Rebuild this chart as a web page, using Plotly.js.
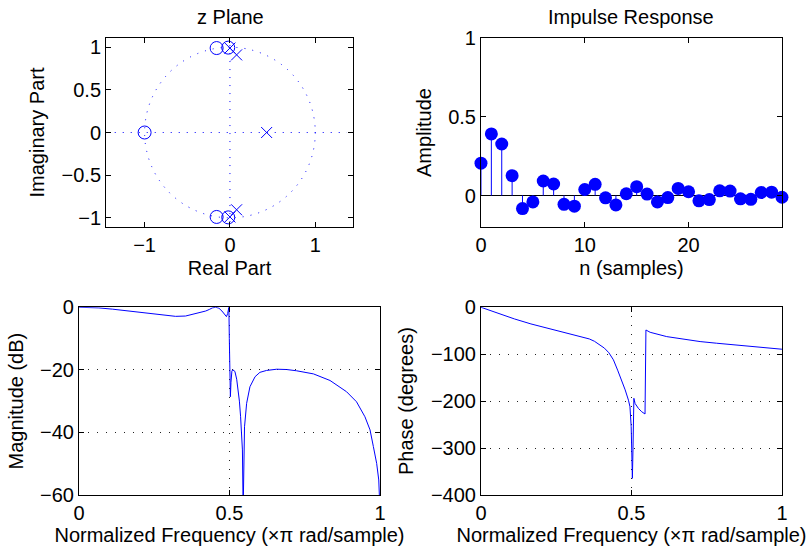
<!DOCTYPE html>
<html>
<head>
<meta charset="utf-8">
<script src="https://cdn.plot.ly/plotly-3.0.1.min.js"></script>
<style>html,body{margin:0;padding:0;background:#fff;}#chart{width:810px;height:549px;}</style>
</head>
<body>
<div id="chart"></div>
<script>
// ---- z-plane data ----
const zeroRe = [-1.0, -0.156, -0.156, -0.02, -0.02];
const zeroIm = [0.0, 0.99, -0.99, 0.995, -0.995];
const poleRe = [0.43, 0.0, 0.0, 0.078, 0.078];
const poleIm = [0.0, 0.99, -0.99, 0.91, -0.906];

// ---- impulse response ----
const nSamples = [0,1,2,3,4,5,6,7,8,9,10,11,12,13,14,15,16,17,18,19,20,21,22,23,24,25,26,27,28,29];
const impulse = [0.205,0.391,0.327,0.126,-0.083,-0.041,0.092,0.073,-0.056,-0.068,
                 0.038,0.071,-0.015,-0.060,0.011,0.056,0.009,-0.041,-0.013,0.045,
                 0.024,-0.034,-0.026,0.030,0.028,-0.021,-0.024,0.019,0.021,-0.011];

// ---- magnitude response ----
const magFreq = [0,0.066,0.111,0.166,0.221,0.277,0.321,0.354,0.388,0.405,0.421,0.433,0.443,0.454,0.465,0.475,0.482,0.490,0.494,0.498,
                 0.4995,0.501,0.503,0.505,0.508,0.511,0.518,0.524,0.529,0.533,0.537,0.541,0.543,0.5455,0.547,0.550,0.557,
                 0.568,0.585,0.601,0.623,0.657,0.690,0.723,0.779,0.834,0.889,0.922,0.950,0.967,0.978,0.989,0.996,1.0];
const magDb = [0,-0.2,-0.6,-1.2,-1.9,-2.6,-2.9,-2.8,-2.1,-1.7,-1.2,-0.7,-0.2,0,-0.3,-1.2,-2.1,-3.0,-2.0,0,
               -10,-22,-28.6,-24,-20.4,-20.0,-20.5,-23,-26.4,-30,-35,-41,-45.6,-65,-48,-38.2,-30.7,
               -25.4,-22.2,-20.8,-20.2,-19.8,-19.9,-20.3,-21.3,-23.4,-27.0,-30.2,-35.0,-39.2,-44.5,-49.9,-55.2,-65];

// ---- phase response ----
const phFreq = [0,0.0554,0.111,0.166,0.222,0.277,0.333,0.360,0.377,0.396,0.410,0.425,0.440,0.454,0.462,0.471,0.479,0.490,0.495,0.499,0.503,0.505,
                0.508,0.512,0.523,0.534,0.545,0.548,0.562,0.617,0.673,0.728,0.783,0.839,0.894,0.950,1.0];
const phDeg = [0,-12.7,-24.8,-35.5,-44.7,-53.3,-62.5,-67.5,-72.5,-80,-87,-97,-112,-134,-147,-162,-176,-198,-212,-254,-364.5,-304,
               -194,-205,-215.5,-222.6,-227.4,-48.4,-53.3,-62.5,-68.2,-73.1,-76.6,-80.1,-83,-85.8,-89.4];

// ---- text ----
const titles = ["z Plane", "Impulse Response"];
const freqLabel = "Normalized Frequency (\u00d7\u03c0 rad/sample)";

const BLUE = "#0000ff";
const FONT = "Liberation Sans, Arial, Helvetica, sans-serif";
const FS = 20;

// stems built from impulse data
const stemX = [], stemY = [];
for (let i = 0; i < nSamples.length; i++) {
  stemX.push(nSamples[i], nSamples[i], null);
  stemY.push(0, impulse[i], null);
}

const traces = [
  {x: zeroRe, y: zeroIm, xaxis: "x", yaxis: "y", mode: "markers", type: "scatter",
   marker: {symbol: "circle-open", size: 13, color: BLUE, line: {width: 1, color: BLUE}}, cliponaxis: false, hoverinfo: "skip"},
  {x: poleRe, y: poleIm, xaxis: "x", yaxis: "y", mode: "markers", type: "scatter",
   marker: {symbol: "x-thin-open", size: 11, color: BLUE, line: {width: 1, color: BLUE}}, cliponaxis: false, hoverinfo: "skip"},
  {x: stemX, y: stemY, xaxis: "x2", yaxis: "y2", mode: "lines", type: "scatter",
   line: {color: BLUE, width: 1}, hoverinfo: "skip"},
  {x: nSamples, y: impulse, xaxis: "x2", yaxis: "y2", mode: "markers", type: "scatter",
   marker: {symbol: "circle", size: 13, color: BLUE}, cliponaxis: false},
  {x: magFreq, y: magDb, xaxis: "x3", yaxis: "y3", mode: "lines", type: "scatter",
   line: {color: BLUE, width: 1}},
  {x: phFreq, y: phDeg, xaxis: "x4", yaxis: "y4", mode: "lines", type: "scatter",
   line: {color: BLUE, width: 1}}
];

function ax(extra) {
  return Object.assign({
    showline: true, linecolor: "#000", linewidth: 1, mirror: "ticks",
    ticks: "inside", ticklen: 5, tickcolor: "#000", tickwidth: 1,
    zeroline: false, showgrid: false, fixedrange: true,
    tickfont: {family: FONT, size: FS, color: "#000"},
    gridcolor: "#222", griddash: "1px,8px", gridwidth: 1
  }, extra);
}
function atitle(text, standoff) {
  return {text: text, font: {family: FONT, size: FS, color: "#000"}, standoff: standoff};
}

const TX = [0.1309, 0.4358], RX = [0.5938, 0.9654], BX = [0.0975, 0.4691];
const TY = [0.5865, 0.9308], BY = [0.0984, 0.4403];

const layout = {
  width: 810, height: 549,
  margin: {l: 0, r: 0, t: 0, b: 0},
  paper_bgcolor: "#fff", plot_bgcolor: "#fff",
  showlegend: false,
  font: {family: FONT, size: FS, color: "#000"},
  xaxis: ax({domain: TX, anchor: "y", range: [-1.452, 1.442], tickvals: [-1, 0, 1], title: atitle("Real Part", 5)}),
  yaxis: ax({domain: TY, anchor: "x", range: [-1.108, 1.108], tickvals: [-1, -0.5, 0, 0.5, 1], title: atitle("Imaginary Part", 11)}),
  xaxis2: ax({domain: RX, anchor: "y2", range: [0, 29], tickvals: [0, 10, 20], title: atitle("n (samples)", 5)}),
  yaxis2: ax({domain: TY, anchor: "x2", range: [-0.2, 1], tickvals: [0, 0.5, 1], zeroline: true, zerolinecolor: "#000", zerolinewidth: 1, title: atitle("Amplitude", 11)}),
  xaxis3: ax({domain: BX, anchor: "y3", range: [0, 1], tickvals: [0, 0.5, 1], showgrid: true, title: atitle(freqLabel, 5)}),
  yaxis3: ax({domain: BY, anchor: "x3", range: [-60, 0], tickvals: [-60, -40, -20, 0], showgrid: true, title: atitle("Magnitude (dB)", 11)}),
  xaxis4: ax({domain: RX, anchor: "y4", range: [0, 1], tickvals: [0, 0.5, 1], showgrid: true, title: atitle(freqLabel, 5)}),
  yaxis4: ax({domain: BY, anchor: "x4", range: [-400, 0], tickvals: [-400, -300, -200, -100, 0], showgrid: true, title: atitle("Phase (degrees)", 11)}),
  shapes: [
    {type: "circle", xref: "x", yref: "y", x0: -1, x1: 1, y0: -1, y1: 1, line: {color: BLUE, width: 1, dash: "1px,7px"}, layer: "below"},
    {type: "line", xref: "x", yref: "y", x0: -1.35, x1: 1.37, y0: 0, y1: 0, line: {color: BLUE, width: 1, dash: "1px,7px"}, layer: "below"},
    {type: "line", xref: "x", yref: "y", x0: 0, x1: 0, y0: -1.05, y1: 1.05, line: {color: BLUE, width: 1, dash: "1px,7px"}, layer: "below"}
  ],
  annotations: [
    {text: titles[0], xref: "paper", yref: "paper", x: 230 / 810, y: 1 - 17 / 549, xanchor: "center", yanchor: "middle", showarrow: false, font: {family: FONT, size: FS, color: "#000"}},
    {text: titles[1], xref: "paper", yref: "paper", x: 631 / 810, y: 1 - 17 / 549, xanchor: "center", yanchor: "middle", showarrow: false, font: {family: FONT, size: FS, color: "#000"}}
  ]
};

Plotly.newPlot("chart", traces, layout, {staticPlot: true, displayModeBar: false});
</script>
</body>
</html>
